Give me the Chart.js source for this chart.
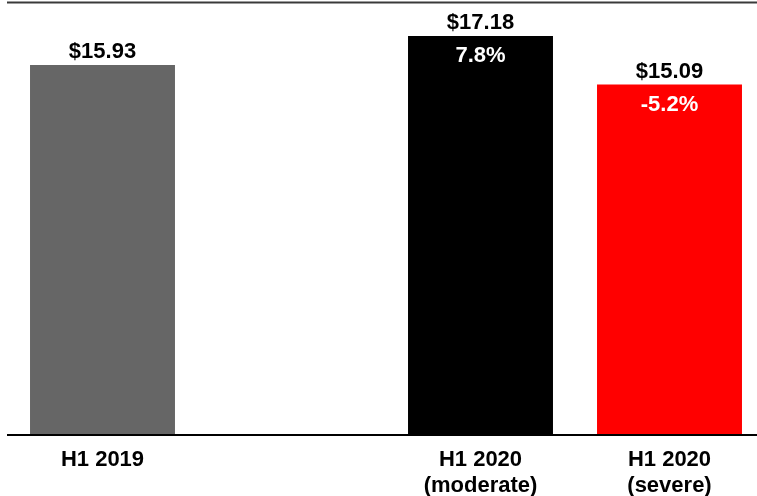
<!DOCTYPE html>
<html>
<head>
<meta charset="utf-8">
<script src="https://cdn.jsdelivr.net/npm/chart.js@4.4.1/dist/chart.umd.min.js"></script>
<style>
  html, body { margin: 0; padding: 0; background: #ffffff; overflow: hidden; }
  #wrap { width: 765px; height: 496px; position: relative; }
</style>
</head>
<body>
<div id="wrap"><canvas id="c"></canvas></div>
<script>
// ---- data ----
const categories = ['H1 2019', '', ['H1 2020', '(moderate)'], ['H1 2020', '(severe)']];
const values = [15.93, null, 17.18, 15.09];
const valueLabels = ['$15.93', '', '$17.18', '$15.09'];
const changeLabels = ['', '', '7.8%', '-5.2%'];
const barColors = ['#666666', '#ffffff', '#000000', '#ff0000'];

const FONT = '"Liberation Sans", Arial, Helvetica, sans-serif';

const labelPlugin = {
  id: 'barLabels',
  afterDatasetsDraw(chart) {
    const ctx = chart.ctx;
    const meta = chart.getDatasetMeta(0);
    ctx.save();
    ctx.textAlign = 'center';
    ctx.textBaseline = 'alphabetic';
    meta.data.forEach((bar, i) => {
      if (values[i] === null) return;
      ctx.font = 'bold 22px ' + FONT;
      ctx.fillStyle = '#000000';
      ctx.fillText(valueLabels[i], bar.x, bar.y - 7);
      if (changeLabels[i]) {
        ctx.fillStyle = '#ffffff';
        ctx.fillText(changeLabels[i], bar.x, bar.y + 26);
      }
    });
    ctx.restore();
  }
};

const framePlugin = {
  id: 'frameLines',
  afterDraw(chart) {
    const ctx = chart.ctx;
    ctx.save();
    ctx.strokeStyle = '#3a3a3a';
    ctx.lineWidth = 2;
    ctx.beginPath();
    ctx.moveTo(7, 2.5);
    ctx.lineTo(chart.width, 2.5);
    ctx.stroke();
    ctx.strokeStyle = '#000000';
    ctx.lineWidth = 2;
    ctx.beginPath();
    ctx.moveTo(7, chart.chartArea.bottom);
    ctx.lineTo(chart.width, chart.chartArea.bottom);
    ctx.stroke();
    ctx.restore();
  }
};

new Chart(document.getElementById('c'), {
  type: 'bar',
  data: {
    labels: categories,
    datasets: [{
      data: values,
      backgroundColor: barColors,
      borderWidth: 0,
      categoryPercentage: 1.0,
      barPercentage: 0.767
    }]
  },
  options: {
    responsive: true,
    maintainAspectRatio: false,
    animation: false,
    devicePixelRatio: 1,
    layout: { padding: { left: 8, right: 1, top: 3, bottom: 0 } },
    plugins: { legend: { display: false }, tooltip: { enabled: false } },
    scales: {
      y: {
        display: false,
        min: 0,
        max: 18.6
      },
      x: {
        grid: { display: false, drawTicks: false },
        border: { display: false },
        ticks: {
          color: '#000000',
          padding: 12,
          maxRotation: 0,
          autoSkip: false,
          font: { family: FONT, size: 22, weight: 'bold', lineHeight: 1.18 }
        },
        afterFit(scale) { scale.height = 61; }
      }
    }
  },
  plugins: [labelPlugin, framePlugin]
});
</script>
</body>
</html>
